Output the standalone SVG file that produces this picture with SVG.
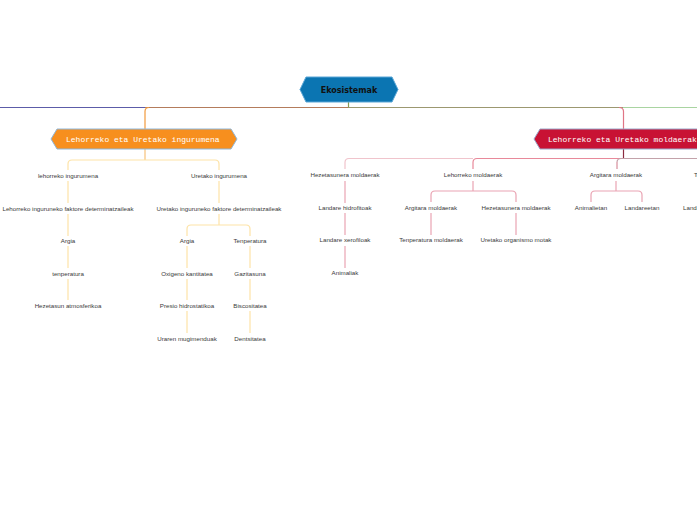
<svg xmlns="http://www.w3.org/2000/svg" width="697" height="520" viewBox="0 0 697 520">
<style>
.lbl{font-family:"Liberation Sans",Arial,sans-serif;font-size:6.2px;fill:#3a3a3a;text-anchor:middle}
.mono{font-family:"Liberation Mono","Courier New",monospace;font-size:8px;fill:#fff}
.c{fill:none;stroke-width:1.2}
.y{stroke:#fde3a7}
.p{stroke:#eaa4b3}
.pl{stroke:#f0c4cc}
</style>
<rect width="697" height="520" fill="#fff"/>
<g id="connectors">
  <path class="c" d="M0,107.5 H145" stroke="#5c5ca8"/>
  <path class="c" d="M145,107.5 H348" stroke="#b47c5c"/>
  <path class="c" d="M348,107.5 H623" stroke="#9c9870"/>
  <path class="c" d="M623,107.5 H697" stroke="#a9d4a1"/>
  <path class="c" d="M348.5,102 V107.5" stroke="#8a9a50"/>
  <path class="c" d="M149,107.5 Q145,107.5 145,111.5 V129" stroke="#f29a3c"/>
  <path class="c" d="M619,107.5 Q623.5,107.5 623.5,111.5 V129" stroke="#e07585"/>
  <path class="c" d="M145,149 V160" stroke="#f7c27a"/>
  <path class="c y" d="M68,170 V164 Q68,160 72,160 H215 Q219,160 219,164 V170"/>
  <path class="c y" d="M68,181 V203 M68,214 V236 M68,246 V268 M68,279 V300"/>
  <path class="c y" d="M219,181 V203 M219,214 V225"/>
  <path class="c y" d="M187,236 V229 Q187,225 191,225 H246 Q250,225 250,229 V236"/>
  <path class="c y" d="M187,246 V268 M187,279 V300 M187,311 V333 M250,246 V268 M250,279 V300 M250,311 V333"/>
  <path class="c" d="M623.5,149 V158.5" stroke="#8c2b3f"/>
  <path class="c pl" d="M345,169 V162.5 Q345,158.5 349,158.5 H473"/>
  <path class="c" d="M473,169 V162.5 Q473,158.5 477,158.5 H623.5" stroke="#e8899a"/>
  <path class="c" d="M617,169 V162.5 Q617,158.5 621,158.5 H697" stroke="#c3a2aa"/>
  <path class="c" d="M617,162 V169" stroke="#eeb3be"/>
  <path class="c p" d="M345,181 V203 M345,213 V235 M345,246 V268"/>
  <path class="c p" d="M473,181 V191 M431,202 V195 Q431,191 435,191 H512 Q516,191 516,195 V202"/>
  <path class="c p" d="M431,213 V235 M516,213 V235"/>
  <path class="c p" d="M616,181 V191 M591,202 V195 Q591,191 595,191 H638 Q642,191 642,195 V202"/>
</g>
<g id="root">
  <polygon points="300,89.5 306,77 392,77 398,89.5 392,102 306,102" fill="#0b75b2" stroke="#5aa6d6" stroke-width="1"/>
  <text x="349" y="92.5" text-anchor="middle" font-family="'DejaVu Sans',Verdana,sans-serif" font-size="8px" font-weight="bold" fill="#111">Ekosistemak</text>
</g>
<g id="n-lehorreko-ingurumena-main">
  <polygon points="51,139 57,129 231,129 237,139 231,149 57,149" fill="#f78f1e" stroke="#8fb6d9" stroke-width="1"/>
  <text class="mono" x="66" y="141.5">Lehorreko eta Uretako ingurumena</text>
</g>
<g id="n-moldaerak-main">
  <polygon points="534,139 540,129 720,129 720,149 540,149" fill="#c81234" stroke="#9aa6c8" stroke-width="1"/>
  <text class="mono" x="548" y="141.5">Lehorreko eta Uretako moldaerak</text>
</g>
<g id="n-lehorreko-ingurumena"><text class="lbl" x="68" y="178">lehorreko ingurumena</text></g>
<g id="n-lehorreko-faktore"><text class="lbl" x="68" y="211">Lehorreko inguruneko faktore determinatzaileak</text></g>
<g id="n-l-argia"><text class="lbl" x="68" y="243">Argia</text></g>
<g id="n-l-tenperatura"><text class="lbl" x="68" y="276">tenperatura</text></g>
<g id="n-l-hezetasun"><text class="lbl" x="68" y="308">Hezetasun atmosferikoa</text></g>
<g id="n-uretako-ingurumena"><text class="lbl" x="219" y="178">Uretako ingurumena</text></g>
<g id="n-uretako-faktore"><text class="lbl" x="219" y="211">Uretako inguruneko faktore determinatzaileak</text></g>
<g id="n-u-argia"><text class="lbl" x="187" y="243">Argia</text></g>
<g id="n-u-tenperatura"><text class="lbl" x="250" y="243">Tenperatura</text></g>
<g id="n-oxigeno"><text class="lbl" x="187" y="276">Oxigeno kantitatea</text></g>
<g id="n-presio"><text class="lbl" x="187" y="308">Presio hidrostatikoa</text></g>
<g id="n-uraren"><text class="lbl" x="187" y="341">Uraren mugimenduak</text></g>
<g id="n-gazitasuna"><text class="lbl" x="250" y="276">Gazitasuna</text></g>
<g id="n-biscositatea"><text class="lbl" x="250" y="308">Biscositatea</text></g>
<g id="n-dentsitatea"><text class="lbl" x="250" y="341">Dentsitatea</text></g>
<g id="n-hezetasunera"><text class="lbl" x="345" y="177">Hezetasunera moldaerak</text></g>
<g id="n-hidrofitoak"><text class="lbl" x="345" y="210">Landare hidrofitoak</text></g>
<g id="n-xerofiloak"><text class="lbl" x="345" y="242">Landare xerofiloak</text></g>
<g id="n-animaliak"><text class="lbl" x="345" y="275">Animaliak</text></g>
<g id="n-lehorreko-moldaerak"><text class="lbl" x="473" y="177">Lehorreko moldaerak</text></g>
<g id="n-argitara-1"><text class="lbl" x="431" y="210">Argitara moldaerak</text></g>
<g id="n-hezetasunera-2"><text class="lbl" x="516" y="210">Hezetasunera moldaerak</text></g>
<g id="n-tenperatura-moldaerak"><text class="lbl" x="431" y="242">Tenperatura moldaerak</text></g>
<g id="n-organismo"><text class="lbl" x="516" y="242">Uretako organismo motak</text></g>
<g id="n-argitara-2"><text class="lbl" x="616" y="177">Argitara moldaerak</text></g>
<g id="n-animalietan"><text class="lbl" x="591" y="210">Animalietan</text></g>
<g id="n-landareetan"><text class="lbl" x="642" y="210">Landareetan</text></g>
<g id="n-t-cut"><text class="lbl" x="694" y="177" style="text-anchor:start">Tenperatura moldaerak</text></g>
<g id="n-landa-cut"><text class="lbl" x="683" y="210" style="text-anchor:start">Landareetan</text></g>
</svg>
